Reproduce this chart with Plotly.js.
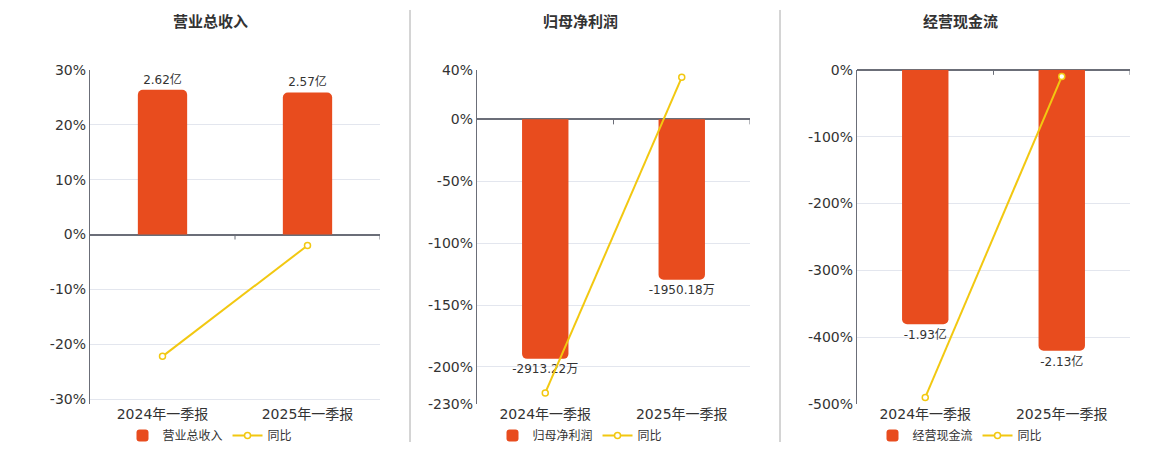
<!DOCTYPE html>
<html>
<head>
<meta charset="utf-8">
<script src="https://cdn.plot.ly/plotly-3.0.1.min.js"></script>
<style>html,body{margin:0;padding:0;background:#fff;}#chart{width:1160px;height:450px;}</style>
</head>
<body>
<div id="chart"></div>
<script>
var categories = ['2024年一季报', '2025年一季报'];
var titles = ['营业总收入', '归母净利润', '经营现金流'];

var revenueValues = [2.62, 2.57];          // 亿
var revenueLabels = ['2.62亿', '2.57亿'];
var revenueYoY = [-22.2, -2.0];            // %

var profitValues = [-2913.22, -1950.18];   // 万
var profitLabels = ['-2913.22万', '-1950.18万'];
var profitYoY = [-221, 34];                // %

var cashValues = [-1.93, -2.13];           // 亿
var cashLabels = ['-1.93亿', '-2.13亿'];
var cashYoY = [-490, -10];                 // %

var pctTicks1 = [-30, -20, -10, 0, 10, 20, 30];
var pctTicks2 = [-230, -200, -150, -100, -50, 0, 40];
var pctTicks3 = [-500, -400, -300, -200, -100, 0];

var BAR = '#E84C1E', LINE = '#F2C811';
var FONT = 'DejaVu Sans, Noto Sans CJK SC, sans-serif';

function barTrace(vals, labels, name, xa, ya, leg) {
  return {type: 'bar', x: categories, y: vals, text: labels, textposition: 'outside',
    texttemplate: '%{text}', textfont: {size: 12, color: '#333', family: FONT},
    constraintext: 'none', textangle: 0,
    cliponaxis: false, name: name, xaxis: xa, yaxis: ya, legend: leg,
    marker: {color: BAR, cornerradius: 5}, width: 0.34, hoverinfo: 'skip'};
}
function lineTrace(vals, xa, ya, leg) {
  return {type: 'scatter', mode: 'lines+markers', x: categories, y: vals, name: '同比',
    xaxis: xa, yaxis: ya, legend: leg, cliponaxis: false,
    line: {color: LINE, width: 2},
    marker: {symbol: 'circle', size: 6, color: '#fff', line: {color: LINE, width: 1.5}},
    hoverinfo: 'skip'};
}

// bars on base axes y/y2/y3, YoY lines on overlaying percent axes y4/y5/y6 (drawn on top)
var data = [
  barTrace(revenueValues, revenueLabels, '营业总收入', 'x', 'y', 'legend'),
  lineTrace(revenueYoY, 'x', 'y4', 'legend'),
  barTrace(profitValues, profitLabels, '归母净利润', 'x2', 'y2', 'legend2'),
  lineTrace(profitYoY, 'x2', 'y5', 'legend2'),
  barTrace(cashValues, cashLabels, '经营现金流', 'x3', 'y3', 'legend3'),
  lineTrace(cashYoY, 'x3', 'y6', 'legend3')
];

var W = 1160, H = 450;
var plotTop = 70, plotBottom = 405;
var yDom = [1 - plotBottom / H, 1 - plotTop / H];
var panels = [[90, 380], [477, 750], [857, 1130]];

function xAxis(i) {
  return {domain: [panels[i][0] / W, panels[i][1] / W], range: [-0.5, 1.5], type: 'category',
    anchor: i === 0 ? 'y' : 'y' + (i + 1),
    showgrid: false, zeroline: false, showline: false, ticks: '',
    tickfont: {size: 14, color: '#333', family: FONT}, fixedrange: true};
}
function barAxis(i, range) {
  return {domain: yDom, range: range, anchor: i === 0 ? 'x' : 'x' + (i + 1),
    showticklabels: false, ticks: '', showgrid: false,
    zeroline: true, zerolinecolor: '#6B6E78', zerolinewidth: 2,
    showline: true, linecolor: '#6B6E78', linewidth: 1, fixedrange: true};
}
function pctAxis(i, range, ticks) {
  return {domain: yDom, range: range, tickvals: ticks, ticktext: ticks.map(function (t) { return t + '%'; }),
    overlaying: i === 0 ? 'y' : 'y' + (i + 1), side: 'left',
    anchor: i === 0 ? 'x' : 'x' + (i + 1),
    showgrid: true, gridcolor: '#E3E6EE', gridwidth: 1,
    zeroline: false, showline: false, ticklabelstandoff: 3,
    tickfont: {size: 14, color: '#333', family: FONT}, ticks: '', fixedrange: true};
}

var shapes = [
  {type: 'line', xref: 'paper', yref: 'paper', x0: 410 / W, x1: 410 / W, y0: 1 - 443 / H, y1: 1 - 10 / H, line: {color: '#AAAAAA', width: 1}},
  {type: 'line', xref: 'paper', yref: 'paper', x0: 780 / W, x1: 780 / W, y0: 1 - 443 / H, y1: 1 - 10 / H, line: {color: '#AAAAAA', width: 1}}
];
['x', 'x2', 'x3'].forEach(function (xa, i) {
  var ya = i === 0 ? 'y' : 'y' + (i + 1);
  [0.5, 1.5].forEach(function (xv) {
    shapes.push({type: 'line', xref: xa, yref: ya, ysizemode: 'pixel', yanchor: 0,
      x0: xv, x1: xv, y0: 0, y1: -5, line: {color: '#6B6E78', width: 1}});
  });
});

var titleX = [210, 580, 960];
var annotations = titles.map(function (t, i) {
  return {text: '<b>' + t + '</b>', xref: 'paper', yref: 'paper',
    x: titleX[i] / W, y: 1 - 22 / H,
    showarrow: false, font: {size: 15, color: '#333', family: FONT}, xanchor: 'center', yanchor: 'middle'};
});

function legend(cx) {
  return {orientation: 'h', x: cx / W, xanchor: 'center', y: 1 - 436 / H, yanchor: 'middle',
    font: {size: 12, color: '#333', family: FONT}, bgcolor: 'rgba(0,0,0,0)', itemwidth: 30, tracegroupgap: 0};
}

var layout = {
  width: W, height: H, margin: {l: 0, r: 0, t: 0, b: 0},
  paper_bgcolor: '#fff', plot_bgcolor: '#fff', showlegend: true,
  font: {family: FONT, color: '#333'},
  xaxis: xAxis(0), xaxis2: xAxis(1), xaxis3: xAxis(2),
  yaxis: barAxis(0, [-30.9 * 0.0993, 30 * 0.0993]),
  yaxis2: barAxis(1, [-230 * 15.06, 40 * 15.06]),
  yaxis3: barAxis(2, [-500 * 0.00507, 0]),
  yaxis4: pctAxis(0, [-30.9, 30], pctTicks1),
  yaxis5: pctAxis(1, [-230, 40], pctTicks2),
  yaxis6: pctAxis(2, [-500, 0], pctTicks3),
  legend: legend(210), legend2: legend(580), legend3: legend(960),
  shapes: shapes, annotations: annotations, bargap: 0.3
};

Plotly.newPlot('chart', data, layout, {displayModeBar: false, staticPlot: true});
</script>
</body>
</html>
